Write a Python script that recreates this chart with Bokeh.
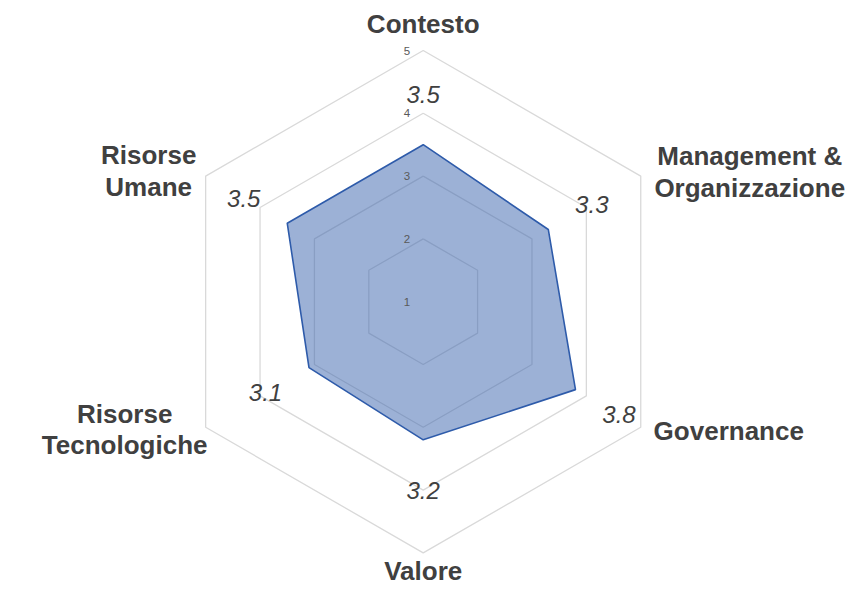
import numpy as np
from bokeh.plotting import figure
from bokeh.models import Range1d, ColumnDataSource
from bokeh.core.properties import value
from bokeh.embed import file_html
from bokeh.resources import INLINE

categories = ["Contesto", "Management &\nOrganizzazione", "Governance", "Valore",
              "Risorse\nTecnologiche", "Risorse\nUmane"]
scores = [3.5, 3.3, 3.8, 3.2, 3.1, 3.5]
score_labels = ["3.5", "3.3", "3.8", "3.2", "3.1", "3.5"]
ring_values = [1, 2, 3, 4, 5]
ring_labels = ["1", "2", "3", "4", "5"]
scale_min = 1

W, H = 865, 587
PX = 62.8              # pixels per unit
CX, CY = 422.7, 301.2  # centre in plot pixels

p = figure(width=W, height=H, output_backend="svg", toolbar_location=None,
           x_range=Range1d(-CX / PX, (W - CX) / PX),
           y_range=Range1d(-(H - CY) / PX, CY / PX),
           min_border=0, outline_line_color=None)
p.axis.visible = False
p.grid.visible = False
p.background_fill_color = "white"

n = len(categories)
angles = np.pi / 2 - np.arange(n) * 2 * np.pi / n

# grid rings
for rv in ring_values:
    r = rv - scale_min
    if r <= 0:
        continue
    xs = list(r * np.cos(angles)) + [r * np.cos(angles[0])]
    ys = list(r * np.sin(angles)) + [r * np.sin(angles[0])]
    p.line(xs, ys, line_color="#d9d9d9", line_width=1.3)

# data polygon
rs = np.array(scores) - scale_min
px = rs * np.cos(angles)
py = rs * np.sin(angles)
p.patch(list(px), list(py), fill_color="#3a63ad", fill_alpha=0.5,
        line_color="#2E5BAA", line_width=1.6)

# ring labels along the top axis
p.text(x=[0] * len(ring_values), y=[rv - scale_min for rv in ring_values], text=ring_labels,
       text_font=value("Liberation Sans"), text_font_size="11.5px", text_color="#595959",
       text_align="right", text_baseline="middle", x_offset=-13)

# value labels
off = 0.8
lx = (rs + off) * np.cos(angles)
ly = (rs + off) * np.sin(angles)
p.text(x=list(lx), y=list(ly), text=score_labels, text_font=value("Liberation Sans"),
       text_font_style="italic", text_font_size="24px", text_color="#404040",
       text_align="center", text_baseline="middle")

# category labels (centred lines, placed beside the outer vertices)
R = max(ring_values) - scale_min
ox = R * np.cos(angles)
oy = R * np.sin(angles)
label_xoff = [0, 109, 88, 0, -81, -57]
label_yoff = [-27, -4, 4, 18, 2, -5]
src = ColumnDataSource(dict(x=list(ox), y=list(oy), t=categories, xo=label_xoff, yo=label_yoff))
p.text(x="x", y="y", text="t", source=src, text_align="center", x_offset="xo", y_offset="yo",
       text_font=value("Liberation Sans"), text_font_style="bold", text_font_size="26px",
       text_color="#404040", text_baseline="middle", text_line_height=1.05)

open("out.html", "w").write(file_html(p, INLINE))
